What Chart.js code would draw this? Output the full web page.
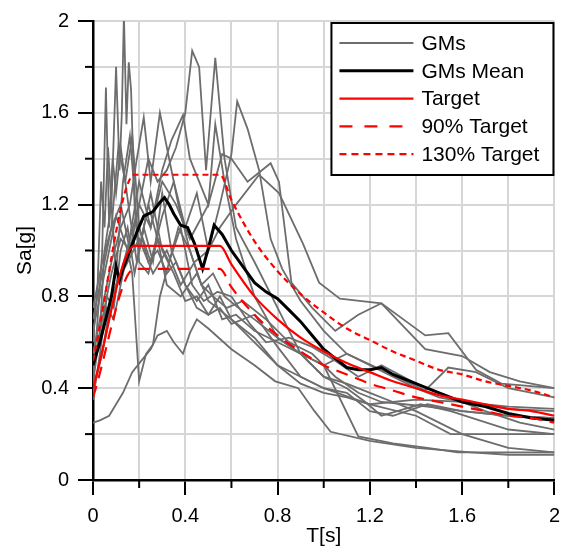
<!DOCTYPE html>
<html>
<head>
<meta charset="utf-8">
<script src="https://cdn.jsdelivr.net/npm/chart.js@4/dist/chart.umd.min.js"></script>
<style>
  html, body { margin: 0; padding: 0; background: #fff; }
  #wrap { width: 569px; height: 556px; }
</style>
</head>
<body>
<div id="wrap"><canvas id="spectra" width="569" height="556"></canvas></div>
<script>
// ground motion spectra (T in s, Sa in g)
const gm1T = [0, 0.02, 0.035, 0.05, 0.065, 0.08, 0.1, 0.115, 0.125, 0.134, 0.145, 0.155, 0.165, 0.18, 0.2, 0.24, 0.28, 0.32, 0.38, 0.45, 0.5, 0.6, 0.7, 0.8, 0.9, 1.0, 1.2, 1.4, 1.55, 1.8, 2.0];
const gm1Sa = [0.6, 0.85, 1.3, 1.1, 1.45, 1.2, 1.8, 1.35, 1.6, 2.03, 1.55, 1.82, 1.7, 1.2, 0.95, 0.9, 1.05, 0.85, 0.8, 0.9, 0.78, 0.7, 0.6, 0.5, 0.45, 0.4, 0.33, 0.28, 0.2, 0.2, 0.2];
const gm2T = [0, 0.02, 0.04, 0.056, 0.07, 0.085, 0.1, 0.12, 0.14, 0.16, 0.19, 0.22, 0.26, 0.3, 0.34, 0.4, 0.45, 0.5, 0.55, 0.6, 0.7, 0.8, 0.9, 1.0, 1.1, 1.2, 1.4, 1.6, 1.8, 2.0];
const gm2Sa = [0.45, 0.7, 1.0, 1.71, 1.1, 1.4, 1.25, 1.45, 1.3, 1.15, 0.95, 1.1, 0.95, 1.25, 1.0, 0.85, 0.75, 0.72, 0.8, 0.7, 0.62, 0.5, 0.42, 0.38, 0.36, 0.33, 0.35, 0.34, 0.31, 0.3];
const gm3T = [0, 0.04, 0.08, 0.12, 0.16, 0.2, 0.24, 0.28, 0.32, 0.36, 0.4, 0.43, 0.46, 0.49, 0.53, 0.57, 0.62, 0.7, 0.8, 0.9, 1.0, 1.1, 1.2, 1.3, 1.4, 1.5, 1.6, 1.8, 2.0];
const gm3Sa = [0.4, 0.55, 0.8, 0.9, 1.05, 1.2, 1.4, 1.3, 1.35, 1.45, 1.6, 1.87, 1.8, 1.35, 1.84, 1.4, 1.1, 0.95, 0.75, 0.55, 0.45, 0.42, 0.38, 0.34, 0.3, 0.25, 0.2, 0.14, 0.12];
const gm4T = [0, 0.03, 0.07, 0.1, 0.13, 0.17, 0.21, 0.25, 0.28, 0.32, 0.35, 0.39, 0.42, 0.45, 0.5, 0.6, 0.7, 0.79, 0.89, 0.96, 1.03, 1.2, 1.4, 1.64, 1.8, 2.0];
const gm4Sa = [0.25, 0.26, 0.28, 0.33, 0.38, 0.47, 0.52, 0.57, 0.63, 0.65, 0.6, 0.55, 0.64, 0.7, 0.66, 0.57, 0.5, 0.43, 0.4, 0.3, 0.21, 0.17, 0.14, 0.12, 0.11, 0.11];
const gm5T = [0, 0.03, 0.06, 0.09, 0.12, 0.15, 0.17, 0.2, 0.23, 0.26, 0.29, 0.33, 0.37, 0.42, 0.47, 0.52, 0.58, 0.65, 0.75, 0.85, 0.95, 1.05, 1.15, 1.25, 1.35, 1.45, 1.6, 1.8, 2.0];
const gm5Sa = [0.5, 0.62, 0.75, 0.7, 0.85, 1.0, 0.9, 0.43, 0.55, 0.59, 0.8, 0.95, 1.1, 1.0, 0.85, 0.8, 0.75, 0.78, 0.7, 0.6, 0.55, 0.45, 0.38, 0.34, 0.33, 0.32, 0.3, 0.28, 0.27];
const gm6T = [0, 0.04, 0.08, 0.12, 0.16, 0.2, 0.25, 0.3, 0.35, 0.4, 0.45, 0.5, 0.55, 0.6, 0.625, 0.67, 0.72, 0.77, 0.82, 0.9, 1.0, 1.1, 1.2, 1.3, 1.4, 1.5, 1.6, 1.8, 2.0];
const gm6Sa = [0.7, 0.9, 1.1, 1.2, 1.0, 1.1, 0.95, 1.15, 1.3, 1.1, 1.25, 1.0, 1.2, 1.42, 1.65, 1.53, 1.35, 1.05, 0.92, 0.78, 0.65, 0.55, 0.5, 0.45, 0.4, 0.36, 0.34, 0.32, 0.31];
const gm7T = [0, 0.04, 0.08, 0.12, 0.16, 0.2, 0.25, 0.3, 0.36, 0.42, 0.5, 0.56, 0.6, 0.67, 0.77, 0.806, 0.86, 0.95, 1.05, 1.15, 1.25, 1.44, 1.6, 1.72, 1.85, 2.0];
const gm7Sa = [0.48, 0.7, 0.9, 1.05, 1.0, 1.2, 1.1, 1.3, 1.2, 1.05, 1.2, 1.42, 1.4, 1.3, 1.38, 1.3, 0.86, 0.75, 0.65, 0.72, 0.77, 0.57, 0.54, 0.47, 0.43, 0.4];
const gm8T = [0, 0.05, 0.1, 0.15, 0.2, 0.26, 0.32, 0.38, 0.44, 0.5, 0.55, 0.62, 0.72, 0.806, 0.91, 0.98, 1.07, 1.25, 1.44, 1.54, 1.66, 1.77, 2.0];
const gm8Sa = [0.38, 0.6, 0.85, 0.95, 1.05, 0.9, 1.0, 0.85, 0.95, 1.0, 1.1, 1.2, 1.33, 1.25, 1.03, 0.86, 0.79, 0.77, 0.63, 0.64, 0.48, 0.42, 0.4];
const gm9T = [0, 0.04, 0.08, 0.12, 0.16, 0.19, 0.22, 0.25, 0.29, 0.33, 0.37, 0.42, 0.47, 0.52, 0.57, 0.63, 0.7, 0.8, 0.9, 1.0, 1.1, 1.18, 1.25, 1.42, 1.55, 1.8, 2.0];
const gm9Sa = [0.55, 0.75, 0.95, 1.1, 1.2, 1.4, 1.58, 1.3, 1.6, 1.4, 1.2, 1.0, 0.85, 0.9, 0.8, 0.75, 0.7, 0.62, 0.55, 0.45, 0.4, 0.34, 0.28, 0.33, 0.3, 0.22, 0.2];
const gm10T = [0, 0.05, 0.1, 0.15, 0.2, 0.25, 0.3, 0.34, 0.39, 0.42, 0.46, 0.5, 0.53, 0.57, 0.62, 0.7, 0.8, 0.9, 1.0, 1.1, 1.25, 1.44, 1.54, 1.66, 1.8, 2.0];
const gm10Sa = [0.65, 0.9, 1.15, 1.0, 1.3, 1.1, 1.35, 1.48, 1.59, 1.4, 1.3, 1.2, 1.55, 1.3, 1.05, 0.8, 0.62, 0.55, 0.5, 0.55, 0.48, 0.39, 0.49, 0.47, 0.4, 0.36];
const gm11T = [0, 0.03, 0.06, 0.09, 0.12, 0.15, 0.18, 0.21, 0.25, 0.3, 0.35, 0.4, 0.45, 0.5, 0.55, 0.6, 0.7, 0.8, 0.9, 1.0, 1.1, 1.2, 1.3, 1.45, 1.6, 1.8, 2.0];
const gm11Sa = [0.35, 0.55, 0.8, 0.75, 1.0, 1.1, 0.9, 1.05, 1.25, 1.0, 0.9, 0.78, 0.8, 0.72, 0.75, 0.68, 0.72, 0.58, 0.45, 0.4, 0.38, 0.3, 0.28, 0.33, 0.3, 0.28, 0.27];
const gm12T = [0, 0.03, 0.05, 0.08, 0.1, 0.13, 0.16, 0.2, 0.24, 0.28, 0.33, 0.38, 0.43, 0.48, 0.54, 0.6, 0.68, 0.75, 0.85, 0.95, 1.05, 1.15, 1.25, 1.4, 1.55, 1.7, 1.85, 2.0];
const gm12Sa = [0.42, 0.65, 1.0, 1.2, 0.9, 1.3, 1.5, 1.0, 1.2, 1.05, 0.95, 1.1, 0.85, 0.78, 0.82, 0.8, 0.68, 0.6, 0.62, 0.58, 0.52, 0.45, 0.5, 0.42, 0.36, 0.3, 0.25, 0.22];
const gm13T = [0, 0.04, 0.08, 0.11, 0.14, 0.17, 0.2, 0.24, 0.28, 0.32, 0.36, 0.4, 0.45, 0.5, 0.56, 0.62, 0.7, 0.8, 0.9, 1.0, 1.15, 1.3, 1.45, 1.58, 1.8, 2.0];
const gm13Sa = [0.75, 0.95, 1.1, 1.45, 1.3, 1.5, 1.1, 0.95, 1.0, 0.9, 0.95, 0.85, 0.78, 0.85, 0.7, 0.72, 0.65, 0.6, 0.55, 0.5, 0.19, 0.16, 0.14, 0.12, 0.12, 0.12];

const meanT = [0, 0.03, 0.06, 0.08, 0.1, 0.115, 0.13, 0.16, 0.19, 0.22, 0.26, 0.29, 0.31, 0.33, 0.35, 0.38, 0.41, 0.44, 0.475, 0.5, 0.525, 0.56, 0.6, 0.65, 0.7, 0.75, 0.8, 0.85, 0.9, 0.95, 1.0, 1.05, 1.1, 1.15, 1.2, 1.25, 1.3, 1.4, 1.5, 1.6, 1.7, 1.8, 1.9, 2.0];
const meanSa = [0.5, 0.6, 0.72, 0.8, 0.93, 0.87, 0.92, 1.0, 1.08, 1.15, 1.17, 1.21, 1.23, 1.2, 1.16, 1.11, 1.1, 1.03, 0.92, 1.01, 1.11, 1.07, 1.0, 0.93, 0.86, 0.82, 0.79, 0.74, 0.69, 0.63, 0.57, 0.53, 0.49, 0.48, 0.48, 0.49, 0.46, 0.42, 0.38, 0.34, 0.32, 0.29, 0.27, 0.26];

const targetT = [0, 0.18, 0.55, 0.6, 0.7, 0.8, 0.9, 1.0, 1.1, 1.2, 1.3, 1.4, 1.5, 1.6, 1.7, 1.8, 1.9, 2.0];
const targetSa = [0.4, 1.02, 1.02, 0.94, 0.8, 0.7, 0.62, 0.56, 0.51, 0.47, 0.43, 0.4, 0.37, 0.35, 0.33, 0.31, 0.3, 0.28];
const target90Sa = [0.36, 0.92, 0.92, 0.84, 0.72, 0.63, 0.56, 0.5, 0.46, 0.42, 0.39, 0.36, 0.34, 0.32, 0.3, 0.28, 0.27, 0.25];
const target130Sa = [0.52, 1.33, 1.33, 1.22, 1.04, 0.91, 0.81, 0.73, 0.66, 0.61, 0.56, 0.52, 0.48, 0.46, 0.43, 0.41, 0.39, 0.36];

const xTicks = [0, 0.4, 0.8, 1.2, 1.6, 2];
const yTicks = [0, 0.4, 0.8, 1.2, 1.6, 2];

const gmRecords = [
  [gm1T, gm1Sa], [gm2T, gm2Sa], [gm3T, gm3Sa], [gm4T, gm4Sa], [gm5T, gm5Sa],
  [gm6T, gm6Sa], [gm7T, gm7Sa], [gm8T, gm8Sa], [gm9T, gm9Sa], [gm10T, gm10Sa],
  [gm11T, gm11Sa], [gm12T, gm12Sa], [gm13T, gm13Sa]
];

const FONT = "Arial, 'Liberation Sans', Helvetica, sans-serif";

function pts(ts, vals) {
  return ts.map((t, i) => ({ x: t, y: vals[i] }));
}

function isMajor(v, list) {
  return list.some(m => Math.abs(m - v) < 1e-6);
}

function fmt(v) {
  if (Math.abs(v) < 1e-9) return '0';
  if (Math.abs(v - 2) < 1e-9) return '2';
  return v.toFixed(1);
}

const datasets = [];
gmRecords.forEach((r, i) => {
  datasets.push({
    label: i === 0 ? 'GMs' : '',
    data: pts(r[0], r[1]),
    borderColor: '#6d6d6d',
    borderWidth: 1.8,
    order: 10
  });
});
datasets.push({ label: 'GMs Mean', data: pts(meanT, meanSa), borderColor: '#000', borderWidth: 3, order: 4 });
datasets.push({ label: 'Target', data: pts(targetT, targetSa), borderColor: '#ff0000', borderWidth: 2.2, cubicInterpolationMode: 'monotone', order: 1 });
datasets.push({ label: '90% Target', data: pts(targetT, target90Sa), borderColor: '#ff0000', borderWidth: 2.2, borderDash: [12, 8], cubicInterpolationMode: 'monotone', order: 2 });
datasets.push({ label: '130% Target', data: pts(targetT, target130Sa), borderColor: '#ff0000', borderWidth: 2.2, borderDash: [6, 4], cubicInterpolationMode: 'monotone', order: 3 });

const legendRows = [
  { text: 'GMs', color: '#6d6d6d', width: 1.8, dash: [] },
  { text: 'GMs Mean', color: '#000', width: 3, dash: [] },
  { text: 'Target', color: '#ff0000', width: 2.2, dash: [] },
  { text: '90% Target', color: '#ff0000', width: 2.2, dash: [13, 12] },
  { text: '130% Target', color: '#ff0000', width: 2.2, dash: [7, 5] }
];

// minor ticks (every 0.2) are shorter than the labelled ones
const minorTicks = {
  id: 'minorTicks',
  afterDraw(chart) {
    const { ctx, scales: { x, y } } = chart;
    ctx.save();
    ctx.strokeStyle = '#000';
    ctx.lineWidth = 2;
    for (let k = 1; k < 10; k += 2) {
      const v = k * 0.2;
      const px = x.getPixelForValue(v);
      ctx.beginPath();
      ctx.moveTo(px, y.bottom);
      ctx.lineTo(px, y.bottom + 8);
      ctx.stroke();
      const py = y.getPixelForValue(v);
      ctx.beginPath();
      ctx.moveTo(x.left, py);
      ctx.lineTo(x.left - 8, py);
      ctx.stroke();
    }
    ctx.restore();
  }
};

const boxLegend = {
  id: 'boxLegend',
  afterDraw(chart) {
    const { ctx, chartArea } = chart;
    const w = 222, h = 152;
    const left = chartArea.right - w - 1;
    const top = chartArea.top + 2;
    ctx.save();
    ctx.fillStyle = '#fff';
    ctx.fillRect(left, top, w, h);
    ctx.strokeStyle = '#000';
    ctx.lineWidth = 2;
    ctx.strokeRect(left, top, w, h);
    ctx.font = '21px ' + FONT;
    ctx.textBaseline = 'middle';
    ctx.fillStyle = '#000';
    legendRows.forEach((row, i) => {
      const cy = top + 20 + i * 27.8;
      ctx.strokeStyle = row.color;
      ctx.lineWidth = row.width;
      ctx.setLineDash(row.dash);
      ctx.beginPath();
      ctx.moveTo(left + 8, cy);
      ctx.lineTo(left + 82, cy);
      ctx.stroke();
      ctx.setLineDash([]);
      ctx.fillText(row.text, left + 90, cy + 1);
    });
    ctx.restore();
  }
};

new Chart(document.getElementById('spectra'), {
  type: 'line',
  data: { datasets },
  plugins: [minorTicks, boxLegend],
  options: {
    responsive: false,
    animation: false,
    events: [],
    layout: { padding: { left: 0, right: 12, top: 15, bottom: 0 } },
    elements: { point: { radius: 0 }, line: { tension: 0, fill: false } },
    plugins: { legend: { display: false }, tooltip: { enabled: false } },
    scales: {
      x: {
        type: 'linear',
        min: 0,
        max: 2,
        afterFit: (s) => { s.height = 76; },
        ticks: {
          stepSize: 0.2,
          padding: 9,
          maxRotation: 0,
          autoSkip: false,
          color: '#000',
          font: { family: FONT, size: 20 },
          callback: (v) => isMajor(v, xTicks) ? fmt(v) : ''
        },
        grid: {
          color: '#d6d6d6',
          lineWidth: 2,
          tickLength: 15,
          tickWidth: 2,
          tickColor: (c) => isMajor(c.tick.value, xTicks) ? '#000' : 'rgba(0,0,0,0)'
        },
        border: { color: '#000', width: 2.5 },
        title: { display: true, text: 'T[s]', color: '#000', font: { family: FONT, size: 21 }, padding: { top: 0, bottom: 7 } }
      },
      y: {
        type: 'linear',
        min: 0,
        max: 2,
        afterFit: (s) => { s.width = 93; },
        ticks: {
          stepSize: 0.2,
          padding: 9,
          autoSkip: false,
          color: '#000',
          font: { family: FONT, size: 20 },
          callback: (v) => isMajor(v, yTicks) ? fmt(v) : ''
        },
        grid: {
          color: '#d6d6d6',
          lineWidth: 2,
          tickLength: 15,
          tickWidth: 2,
          tickColor: (c) => isMajor(c.tick.value, yTicks) ? '#000' : 'rgba(0,0,0,0)'
        },
        border: { color: '#000', width: 2.5 },
        title: { display: true, text: 'Sa[g]', color: '#000', font: { family: FONT, size: 21 }, padding: { top: 13, bottom: 0 } }
      }
    }
  }
});
</script>
</body>
</html>
